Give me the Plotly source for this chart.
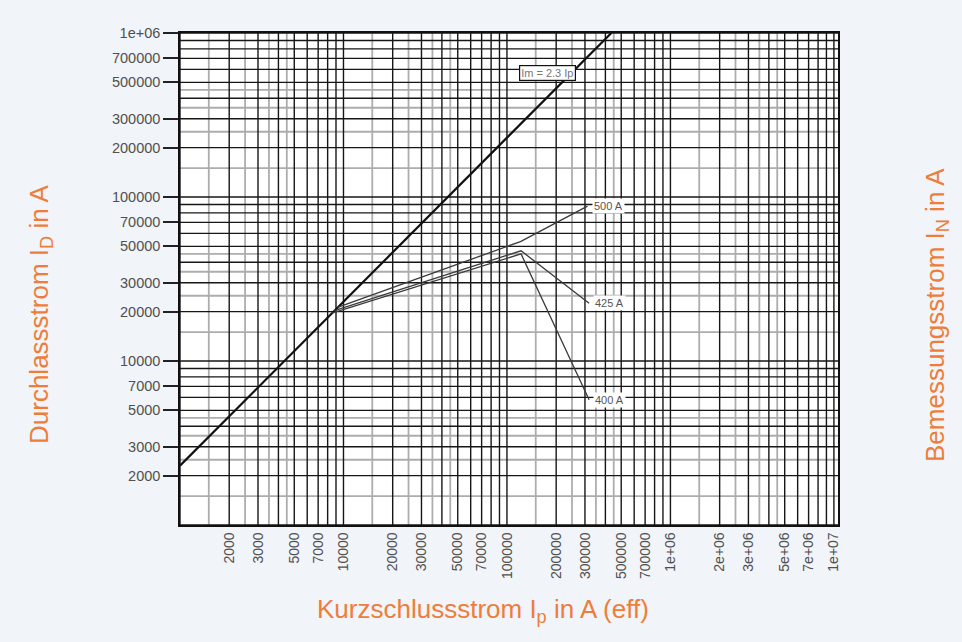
import math
import plotly.graph_objects as go

# ---- data ----
# diagonal limit line  Im = 2.3 Ip
diag_ip = [1000, 435000]
diag_id = [2300, 1000000]

# rated-current curves (Ip, ID)
c500_ip = [9200, 121000, 311000]
c500_id = [21200, 53500, 88000]
c425_ip = [8800, 122000, 318000]
c425_id = [20300, 47000, 22500]
c400_ip = [8500, 122000, 318000]
c400_id = [19600, 45000, 5800]

curve_names = ["500 A", "425 A", "400 A"]

x_tick_vals = [2000, 3000, 5000, 7000, 10000, 20000, 30000, 50000, 70000, 100000,
               200000, 300000, 500000, 700000, 1e6, 2e6, 3e6, 5e6, 7e6, 1e7]
x_tick_text = ["2000", "3000", "5000", "7000", "10000", "20000", "30000", "50000", "70000",
               "100000", "200000", "300000", "500000", "700000", "1e+06", "2e+06", "3e+06",
               "5e+06", "7e+06", "1e+07"]
y_tick_vals = [2000, 3000, 5000, 7000, 10000, 20000, 30000, 50000, 70000, 100000,
               200000, 300000, 500000, 700000, 1e6]
y_tick_text = ["2000", "3000", "5000", "7000", "10000", "20000", "30000", "50000", "70000",
               "100000", "200000", "300000", "500000", "700000", "1e+06"]

grid_black_mult = [1, 2, 3, 4, 5, 6, 7, 8, 9]
grid_gray_mult = [1.5, 2.5, 3.5, 4.5]
x_decades = [1000, 10000, 100000, 1000000, 10000000]
y_decades = [1000, 10000, 100000, 1000000]

X_MIN, X_MAX = 1000, 10 ** 7.025
Y_MIN, Y_MAX = 1000, 1000000

ORANGE = "#EE7D3B"
FONT = "Liberation Sans, Arial, sans-serif"


def grid_lines(mults, decades, vmin, vmax, vertical):
    xs, ys = [], []
    for d in decades:
        for m in mults:
            v = m * d
            if v < vmin * 0.999 or v > vmax * 1.001:
                continue
            if vertical:
                xs += [v, v, None]
                ys += [Y_MIN, Y_MAX, None]
            else:
                xs += [X_MIN, X_MAX, None]
                ys += [v, v, None]
    return xs, ys


fig = go.Figure()

# gray grid first, black grid on top
for mults, color, width in [(grid_gray_mult, "#ADADAD", 1.8), (grid_black_mult, "#161616", 1.4)]:
    gx, gy = grid_lines(mults, x_decades, X_MIN, X_MAX, True)
    fig.add_trace(go.Scatter(x=gx, y=gy, mode="lines", line=dict(color=color, width=width),
                             hoverinfo="skip", showlegend=False))
    gx, gy = grid_lines(mults, y_decades, Y_MIN, Y_MAX, False)
    fig.add_trace(go.Scatter(x=gx, y=gy, mode="lines", line=dict(color=color, width=width),
                             hoverinfo="skip", showlegend=False))

fig.add_trace(go.Scatter(x=diag_ip, y=diag_id, mode="lines",
                         line=dict(color="#111111", width=2.2), showlegend=False))

for ip, idv, name in [(c500_ip, c500_id, "500 A"), (c425_ip, c425_id, "425 A"),
                      (c400_ip, c400_id, "400 A")]:
    fig.add_trace(go.Scatter(x=ip, y=idv, mode="lines", name=name,
                             line=dict(color="#3a3a3a", width=1.3), showlegend=False))

annotations = []
for ip, idv, name in [(c500_ip, c500_id, curve_names[0]), (c425_ip, c425_id, curve_names[1]),
                      (c400_ip, c400_id, curve_names[2])]:
    annotations.append(dict(x=math.log10(ip[-1]), y=math.log10(idv[-1]), xref="x", yref="y",
                            text=name, showarrow=False, xanchor="left", xshift=4,
                            bgcolor="white", borderpad=1,
                            font=dict(family=FONT, size=11, color="#555555")))

annotations.append(dict(x=math.log10(177000), y=math.log10(570000), xref="x", yref="y",
                        text="Im = 2.3 Ip", showarrow=False, bgcolor="white",
                        bordercolor="#111111", borderwidth=1.2, borderpad=1,
                        font=dict(family=FONT, size=11, color="#777777")))

# axis titles
annotations.append(dict(x=(483 - 180) / 658, y=(525 - 610) / 492, xref="paper", yref="paper",
                        xanchor="center", yanchor="middle",
                        text="Kurzschlussstrom I<sub>p</sub> in A (eff)", showarrow=False,
                        font=dict(family=FONT, size=26, color=ORANGE)))
annotations.append(dict(x=(40 - 180) / 658, y=(525 - 315) / 492, xref="paper", yref="paper",
                        xanchor="center", yanchor="middle",
                        text="Durchlassstrom I<sub>D</sub> in A", showarrow=False, textangle=-90,
                        font=dict(family=FONT, size=26, color=ORANGE)))
annotations.append(dict(x=(936 - 180) / 658, y=(525 - 315) / 492, xref="paper", yref="paper",
                        xanchor="center", yanchor="middle",
                        text="Bemessungsstrom I<sub>N</sub> in A", showarrow=False, textangle=-90,
                        font=dict(family=FONT, size=26, color=ORANGE)))

fig.update_layout(
    width=962, height=642,
    margin=dict(l=180, r=124, t=33, b=117, autoexpand=False),
    paper_bgcolor="#F1F4F8",
    plot_bgcolor="white",
    showlegend=False,
    annotations=annotations,
    xaxis=dict(type="log", range=[3, math.log10(X_MAX)], showgrid=False, zeroline=False,
               tickvals=x_tick_vals, ticktext=x_tick_text, tickangle=-90, ticks="",
               tickfont=dict(family=FONT, size=14, color="#505050"),
               showline=True, mirror=True, linecolor="#111111", linewidth=1.5),
    yaxis=dict(type="log", range=[3, 6], showgrid=False, zeroline=False,
               tickvals=y_tick_vals, ticktext=y_tick_text, ticks="outside", ticklen=15,
               tickwidth=1.5, tickcolor="#222222",
               tickfont=dict(family=FONT, size=14.5, color="#505050"),
               showline=True, mirror=True, linecolor="#111111", linewidth=1.5),
)

fig.write_html("out.html", config={"displayModeBar": False},
               post_script="document.body.style.margin='0';document.body.style.overflow='hidden';")
